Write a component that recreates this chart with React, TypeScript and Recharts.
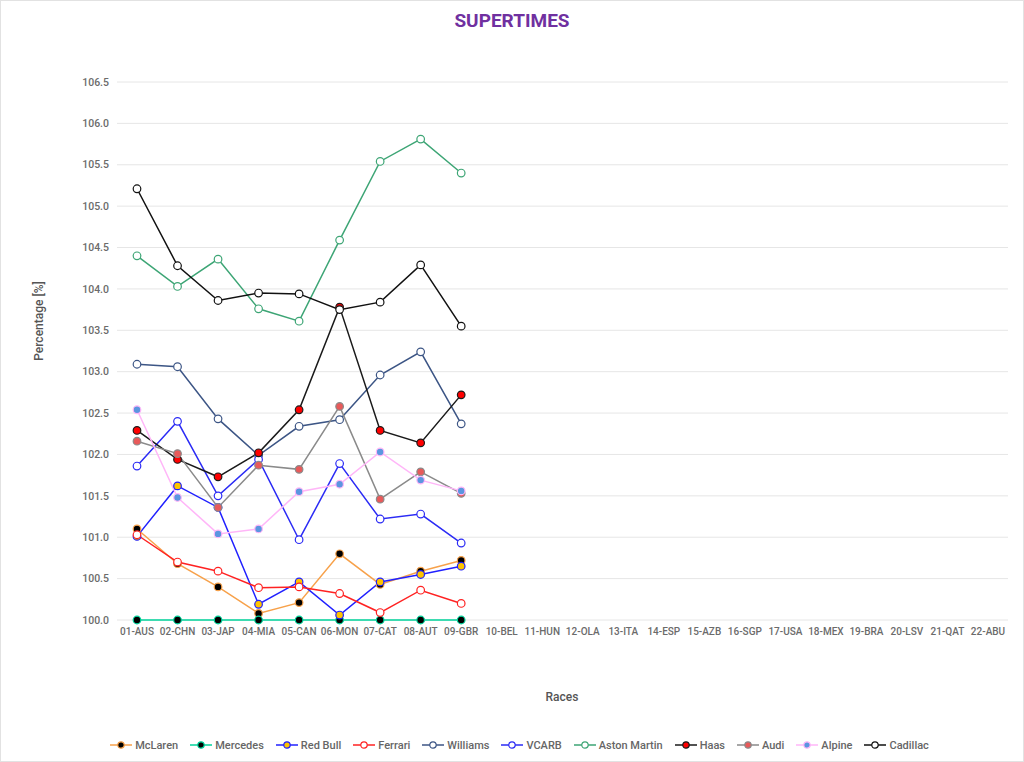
import { LineChart, Line, XAxis, YAxis, CartesianGrid, Legend } from 'recharts';

const races = [
  '01-AUS', '02-CHN', '03-JAP', '04-MIA', '05-CAN', '06-MON', '07-CAT', '08-AUT', '09-GBR',
  '10-BEL', '11-HUN', '12-OLA', '13-ITA', '14-ESP', '15-AZB', '16-SGP', '17-USA', '18-MEX',
  '19-BRA', '20-LSV', '21-QAT', '22-ABU',
];

const yTicks = [100, 100.5, 101, 101.5, 102, 102.5, 103, 103.5, 104, 104.5, 105, 105.5, 106, 106.5];

// values only known for the first 9 races
const mclaren = [101.1, 100.68, 100.4, 100.08, 100.21, 100.8, 100.43, 100.59, 100.72];
const mercedes = [100, 100, 100, 100, 100, 100, 100, 100, 100];
const redBull = [101.01, 101.62, 101.36, 100.19, 100.46, 100.06, 100.46, 100.55, 100.65];
const ferrari = [101.03, 100.7, 100.59, 100.39, 100.4, 100.32, 100.09, 100.36, 100.2];
const williams = [103.09, 103.06, 102.43, 101.99, 102.34, 102.42, 102.96, 103.24, 102.37];
const vcarb = [101.86, 102.4, 101.5, 101.94, 100.97, 101.89, 101.22, 101.28, 100.93];
const astonMartin = [104.4, 104.03, 104.36, 103.76, 103.61, 104.59, 105.54, 105.81, 105.4];
const haas = [102.29, 101.94, 101.73, 102.02, 102.54, 103.78, 102.29, 102.14, 102.72];
const audi = [102.16, 102.01, 101.36, 101.87, 101.82, 102.58, 101.46, 101.79, 101.53];
const alpine = [102.54, 101.48, 101.04, 101.1, 101.55, 101.64, 102.03, 101.69, 101.56];
const cadillac = [105.21, 104.28, 103.86, 103.95, 103.94, 103.75, 103.84, 104.29, 103.55];

const teams = [
  { key: 'McLaren', values: mclaren, line: '#f7a14a', dot: '#000000', dotStroke: '#f7a14a' },
  { key: 'Mercedes', values: mercedes, line: '#00d39b', dot: '#000000', dotStroke: '#00d39b' },
  { key: 'Red Bull', values: redBull, line: '#2020ff', dot: '#ffc400', dotStroke: '#2020ff' },
  { key: 'Ferrari', values: ferrari, line: '#ff2222', dot: '#ffffff', dotStroke: '#ff2222' },
  { key: 'Williams', values: williams, line: '#3c5585', dot: '#ffffff', dotStroke: '#3c5585' },
  { key: 'VCARB', values: vcarb, line: '#2b2bf5', dot: '#ffffff', dotStroke: '#2b2bf5' },
  { key: 'Aston Martin', values: astonMartin, line: '#3da575', dot: '#ffffff', dotStroke: '#3da575' },
  { key: 'Haas', values: haas, line: '#1a1a1a', dot: '#ff0000', dotStroke: '#1a1a1a' },
  { key: 'Audi', values: audi, line: '#8a8a8a', dot: '#e85a5a', dotStroke: '#8a8a8a' },
  { key: 'Alpine', values: alpine, line: '#ffb6f8', dot: '#5b96e0', dotStroke: '#ffb6f8' },
  { key: 'Cadillac', values: cadillac, line: '#111111', dot: '#ffffff', dotStroke: '#111111' },
];

const data = races.map((race, i) => {
  const row: Record<string, string | number | null> = { race };
  teams.forEach((t) => {
    row[t.key] = i < t.values.length ? t.values[i] : null;
  });
  return row;
});

const font = "Roboto, 'DejaVu Sans Condensed', sans-serif";

function LegendRow() {
  return (
    <div style={{ display: 'flex', justifyContent: 'center', alignItems: 'center', height: 24, gap: 12, paddingLeft: 30, fontFamily: font, fontWeight: 500, fontSize: 11, color: '#666' }}>
      {teams.map((t) => (
        <div key={t.key} style={{ display: 'flex', alignItems: 'center', gap: 3 }}>
          <svg width={22} height={10}>
            <line x1={0} y1={5} x2={22} y2={5} stroke={t.line} strokeWidth={1.5} />
            <circle cx={11} cy={5} r={3.2} fill={t.dot} stroke={t.dotStroke} strokeWidth={1.2} />
          </svg>
          <span>{t.key}</span>
        </div>
      ))}
    </div>
  );
}

export default function App() {
  return (
    <div style={{ position: 'absolute', left: 0, top: 0, width: 1024, height: 762, boxSizing: 'border-box', border: '1px solid #e2e2e2', background: '#fff' }}>
      <div style={{ position: 'absolute', top: 8, width: '100%', textAlign: 'center', fontFamily: font, fontWeight: 'bold', fontSize: 19, color: '#7030a0' }}>
        SUPERTIMES
      </div>
      <LineChart width={1022} height={760} data={data} margin={{ top: 81, right: 15, left: 0, bottom: 4 }}>
        <CartesianGrid vertical={false} stroke="#e6e6e6" />
        <XAxis
          dataKey="race"
          padding={{ left: 20, right: 20 }}
          interval={0}
          axisLine={false}
          tickLine={false}
          height={113}
          tick={{ fill: '#6b6b6b', fontSize: 10, fontWeight: 500, fontFamily: font }}
          label={{
            content: () => (
              <text x={561} y={700} textAnchor="middle" fill="#555" fontSize={12} fontWeight={500} fontFamily={font}>Races</text>
            ),
          }}
        />
        <YAxis
          domain={[100, 106.5]}
          ticks={yTicks}
          tickFormatter={(v: number) => v.toFixed(1)}
          width={116}
          axisLine={false}
          tickLine={false}
          tick={{ fill: '#6b6b6b', fontSize: 10.5, fontWeight: 500, fontFamily: font }}
          label={{
            content: () => (
              <text x={38} y={320} transform="rotate(-90 38 320)" textAnchor="middle" dominantBaseline="central" fill="#555" fontSize={12} fontWeight={500} fontFamily={font}>Percentage [%]</text>
            ),
          }}
        />
        <Legend verticalAlign="bottom" content={() => <LegendRow />} />
        {teams.map((t) => (
          <Line
            key={t.key}
            type="linear"
            dataKey={t.key}
            stroke={t.line}
            strokeWidth={1.5}
            dot={{ r: 3.8, fill: t.dot, stroke: t.dotStroke, strokeWidth: 1.2 }}
            activeDot={false}
            isAnimationActive={false}
          />
        ))}
      </LineChart>
    </div>
  );
}
